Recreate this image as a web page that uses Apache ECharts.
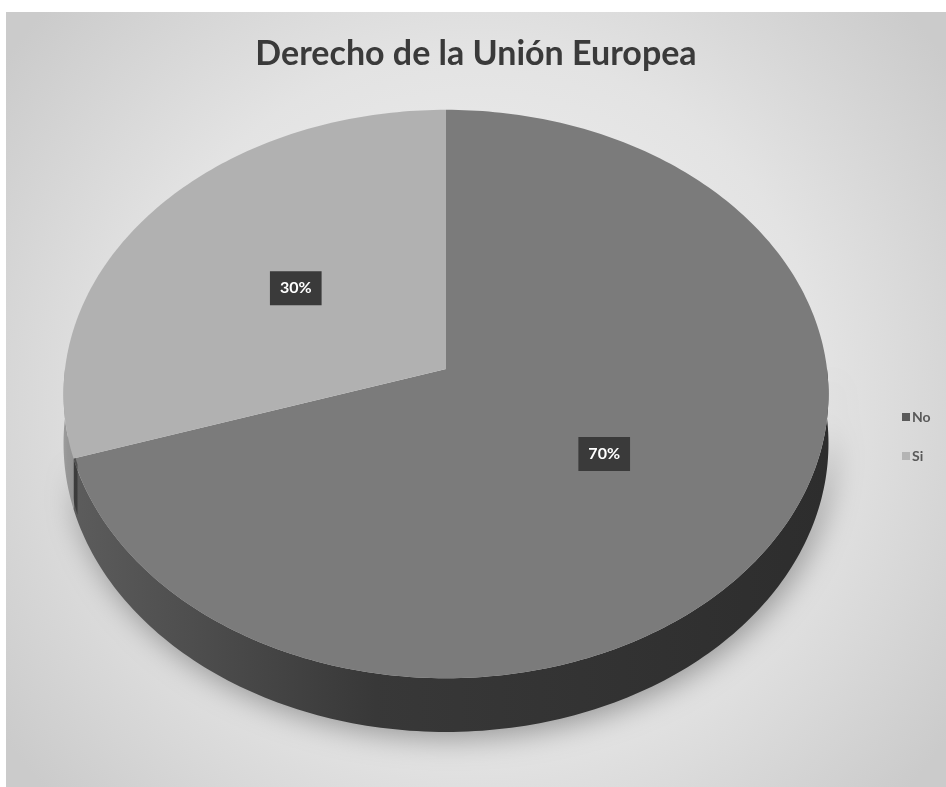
<!DOCTYPE html>
<html><head><meta charset="utf-8">
<script src="https://cdn.jsdelivr.net/npm/echarts@6/dist/echarts.min.js"></script>
<style>html,body{margin:0;padding:0;background:#fff;width:946px;height:787px;overflow:hidden}
#chart{position:absolute;left:6px;top:12px;width:940px;height:775px}</style>
</head><body><div id="chart"></div>
<script>
const chartTitle = 'Derecho de la Unión Europea';
const categories = ['No', 'Si'];
const values = [70, 30];
const labelTexts = ['70%', '30%'];
const topColors = ['#7b7b7b', '#b1b1b1'];
const sideColors = [['#5c5c5c', '#383838', '#2d2d2d'], ['#9c9c9c', '#969696', '#929292']];
const legendColors = ['#5a5a5a', '#b4b4b4'];

const total = values.reduce((a, b) => a + b, 0);
const starts = values.map((v, i) => values.slice(0, i).reduce((a, b) => a + b, 0));

const G = { cx: 440, cy: 357, rx: 381, A: 282, k: 0.088, D: 49 };
function proj(theta, f, drop) {
  const u = Math.sin(theta) * f, v = -Math.cos(theta) * f;
  const p = 1 / (1 - G.k * v);
  return [G.cx + G.rx * u * p, G.cy + G.A * v * p + (drop ? G.D * p : 0)];
}

function makeRender(i) {
  return function (params, api) {
    const val = api.value(0), start = api.value(1), tot = api.value(2);
    const a0 = start / tot * 2 * Math.PI, a1 = (start + val) / tot * 2 * Math.PI;
    const children = [];
    const s0 = Math.max(a0, Math.PI / 2), s1 = Math.min(a1, 1.5 * Math.PI);
    if (s1 > s0) {
      const pts = [];
      const n = Math.max(2, Math.ceil((s1 - s0) / (Math.PI / 180)));
      for (let j = 0; j <= n; j++) pts.push(proj(s0 + (s1 - s0) * j / n, 1, false));
      for (let j = n; j >= 0; j--) pts.push(proj(s0 + (s1 - s0) * j / n, 1, true));
      const sc = sideColors[i];
      children.push({
        type: 'polygon', shape: { points: pts },
        style: {
          fill: new echarts.graphic.LinearGradient(0, 0, 1, 0, [
            { offset: 0, color: sc[0] }, { offset: 0.4, color: sc[1] }, { offset: 1, color: sc[2] }
          ]),
          shadowBlur: i === 0 ? 30 : 0, shadowColor: 'rgba(0,0,0,0.35)', shadowOffsetY: 6, shadowOffsetX: 4
        }
      });
    }
    const tp = [proj(0, 0, false)];
    const n2 = Math.max(2, Math.ceil((a1 - a0) / (Math.PI / 180)));
    for (let j = 0; j <= n2; j++) tp.push(proj(a0 + (a1 - a0) * j / n2, 1, false));
    children.push({ type: 'polygon', shape: { points: tp }, style: { fill: topColors[i] } });
    const mid = (a0 + a1) / 2;
    const lp = proj(mid, 0.5, false);
    children.push({
      type: 'text', x: lp[0], y: lp[1],
      style: {
        text: labelTexts[i], fill: '#ffffff', font: 'bold 16px Lato',
        align: 'center', verticalAlign: 'middle',
        backgroundColor: '#3a3a3a', padding: [9, 10]
      }
    });
    return { type: 'group', children: children };
  };
}

const chart = echarts.init(document.getElementById('chart'));
chart.setOption({
  animation: false,
  backgroundColor: {
    type: 'radial', x: 0.5, y: 0.5, r: 0.75,
    colorStops: [{ offset: 0, color: '#f4f4f4' }, { offset: 0.6, color: '#e3e3e3' }, { offset: 1, color: '#cbcbcb' }]
  },
  title: {
    text: chartTitle, left: 'center', top: 20,
    textStyle: { fontFamily: 'Lato', fontSize: 34, fontWeight: 'bold', color: '#3a3a3a' }
  },
  legend: {
    orient: 'vertical', left: 891, top: 393,
    itemWidth: 8, itemHeight: 8, itemGap: 25, icon: 'rect',
    textStyle: { fontFamily: 'Lato', fontSize: 14, fontWeight: 'bold', color: '#595959', padding: [0, 0, 0, -3] },
    data: categories.map((c, i) => ({ name: c, itemStyle: { color: legendColors[i] } }))
  },
  series: categories.map((c, i) => ({
    type: 'custom', name: c, coordinateSystem: 'none', silent: true,
    itemStyle: { color: topColors[i] },
    data: [[values[i], starts[i], total]],
    renderItem: makeRender(i)
  }))
});
</script></body></html>
